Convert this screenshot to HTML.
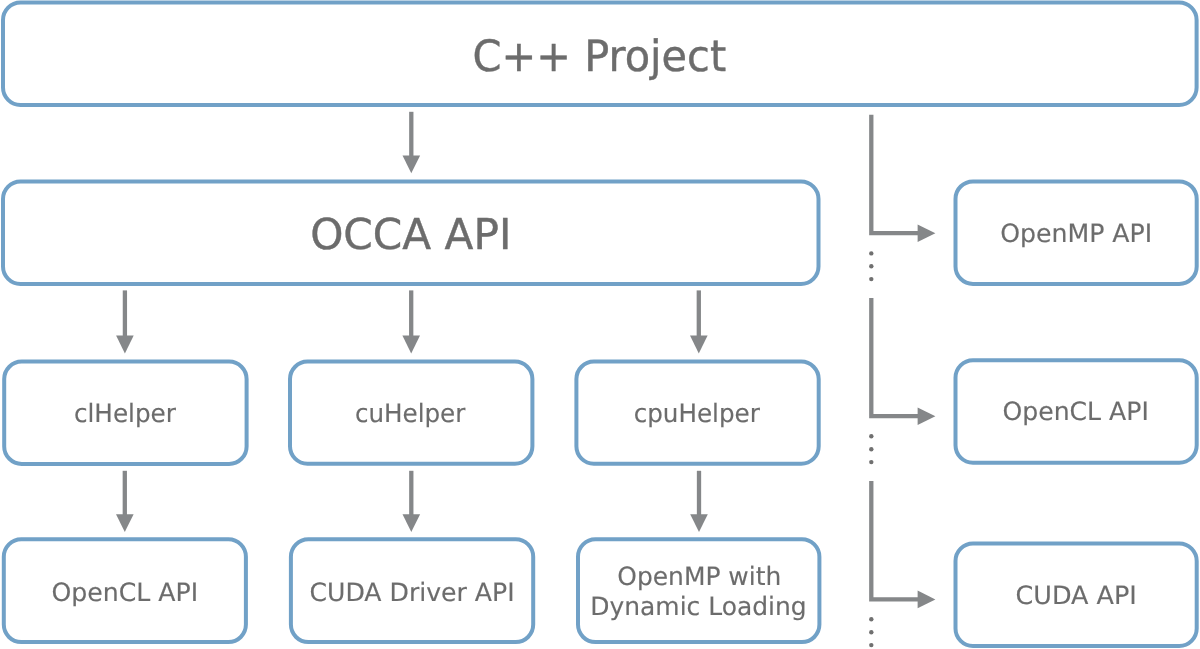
<!DOCTYPE html>
<html lang="en">
<head>
<meta charset="utf-8">
<title>OCCA API layers</title>
<style>
html,body{margin:0;padding:0;background:#fff;}
body{width:1200px;height:649px;overflow:hidden;}
svg{display:block;will-change:transform;}
.bx{fill:#fff;stroke:#71a1c7;stroke-width:4.0;}
.ln{fill:none;stroke:#858789;stroke-width:4.3;stroke-linejoin:miter;}
.hd{fill:#858789;}
.dt{fill:#707070;}
text{font-family:"DejaVu Sans", "Liberation Sans", sans-serif;fill:#6c6c6c;white-space:pre;text-rendering:geometricPrecision;stroke:#6c6c6c;stroke-width:0.15px;}
.big{stroke-width:0.4px;}
</style>
</head>
<body>
<svg width="1200" height="649" viewBox="0 0 1200 649">
<rect x="0" y="0" width="1200" height="649" fill="#ffffff"/>
<rect class="bx" x="3.00" y="2.50" width="1193.60" height="102.50" rx="17.5" ry="17.5"/>
<rect class="bx" x="3.00" y="181.50" width="815.50" height="102.50" rx="17.5" ry="17.5"/>
<rect class="bx" x="955.50" y="181.40" width="241.20" height="102.50" rx="17.5" ry="17.5"/>
<rect class="bx" x="4.20" y="361.60" width="242.40" height="102.30" rx="17.5" ry="17.5"/>
<rect class="bx" x="290.00" y="361.60" width="242.40" height="102.10" rx="17.5" ry="17.5"/>
<rect class="bx" x="576.40" y="361.60" width="242.30" height="102.10" rx="17.5" ry="17.5"/>
<rect class="bx" x="955.50" y="360.30" width="241.20" height="102.50" rx="17.5" ry="17.5"/>
<rect class="bx" x="3.80" y="539.30" width="242.10" height="102.80" rx="17.5" ry="17.5"/>
<rect class="bx" x="290.90" y="539.30" width="242.30" height="102.80" rx="17.5" ry="17.5"/>
<rect class="bx" x="578.00" y="539.30" width="241.40" height="102.80" rx="17.5" ry="17.5"/>
<rect class="bx" x="955.50" y="543.50" width="241.20" height="102.50" rx="17.5" ry="17.5"/>
<path class="ln" d="M411.30 111.80V156.50"/>
<path class="hd" d="M402.50 155.50H420.10L411.30 173.30Z"/>
<path class="ln" d="M124.90 290.40V336.60"/>
<path class="hd" d="M116.10 335.60H133.70L124.90 353.40Z"/>
<path class="ln" d="M411.20 290.40V336.60"/>
<path class="hd" d="M402.40 335.60H420.00L411.20 353.40Z"/>
<path class="ln" d="M698.80 290.40V336.60"/>
<path class="hd" d="M690.00 335.60H707.60L698.80 353.40Z"/>
<path class="ln" d="M124.80 470.80V515.20"/>
<path class="hd" d="M116.00 514.20H133.60L124.80 532.00Z"/>
<path class="ln" d="M411.30 470.80V515.20"/>
<path class="hd" d="M402.50 514.20H420.10L411.30 532.00Z"/>
<path class="ln" d="M699.00 470.80V515.20"/>
<path class="hd" d="M690.20 514.20H707.80L699.00 532.00Z"/>
<path class="ln" d="M871.30 114.70V233.20H918.60"/>
<path class="hd" d="M917.60 224.40V242.00L935.40 233.20Z"/>
<path class="ln" d="M871.30 298.00V416.20H918.60"/>
<path class="hd" d="M917.60 407.40V425.00L935.40 416.20Z"/>
<path class="ln" d="M871.30 481.00V599.40H918.60"/>
<path class="hd" d="M917.60 590.60V608.20L935.40 599.40Z"/>
<circle class="dt" cx="871.30" cy="253.40" r="2.2"/>
<circle class="dt" cx="871.30" cy="266.20" r="2.2"/>
<circle class="dt" cx="871.30" cy="279.10" r="2.2"/>
<circle class="dt" cx="871.30" cy="436.20" r="2.2"/>
<circle class="dt" cx="871.30" cy="449.20" r="2.2"/>
<circle class="dt" cx="871.30" cy="462.10" r="2.2"/>
<circle class="dt" cx="871.30" cy="619.30" r="2.2"/>
<circle class="dt" cx="871.30" cy="632.20" r="2.2"/>
<circle class="dt" cx="871.30" cy="645.10" r="2.2"/>
<text id="t0" text-anchor="middle" transform="translate(599.31 70.60) scale(0.9632 1)" font-size="43.1" class="big">C++ Project</text>
<text id="t1" text-anchor="middle" transform="translate(410.75 248.90) scale(0.9929 1)" font-size="42.5" class="big">OCCA API</text>
<text id="t2" text-anchor="middle" transform="translate(1076.18 242.30) scale(0.9996 1)" font-size="25.2">OpenMP API</text>
<text id="t3" text-anchor="middle" transform="translate(124.93 422.40) scale(0.9719 1)" font-size="25.4">clHelper</text>
<text id="t4" text-anchor="middle" transform="translate(410.14 422.40) scale(0.9684 1)" font-size="25.4">cuHelper</text>
<text id="t5" text-anchor="middle" transform="translate(696.76 422.40) scale(0.9699 1)" font-size="25.4">cpuHelper</text>
<text id="t6" text-anchor="middle" transform="translate(1075.63 420.30) scale(0.9972 1)" font-size="25.2">OpenCL API</text>
<text id="t7" text-anchor="middle" transform="translate(124.81 600.50) scale(1.0000 1)" font-size="25.2">OpenCL API</text>
<text id="t8" text-anchor="middle" transform="translate(412.07 600.50) scale(0.9978 1)" font-size="25.2">CUDA Driver API</text>
<text id="t9" text-anchor="middle" transform="translate(699.27 584.60) scale(0.9901 1)" font-size="25.2">OpenMP with</text>
<text id="t10" text-anchor="middle" transform="translate(698.48 615.00) scale(0.9902 1)" font-size="25.2">Dynamic Loading</text>
<text id="t11" text-anchor="middle" transform="translate(1076.21 604.40) scale(1.0106 1)" font-size="25.2">CUDA API</text>
</svg>
</body>
</html>
